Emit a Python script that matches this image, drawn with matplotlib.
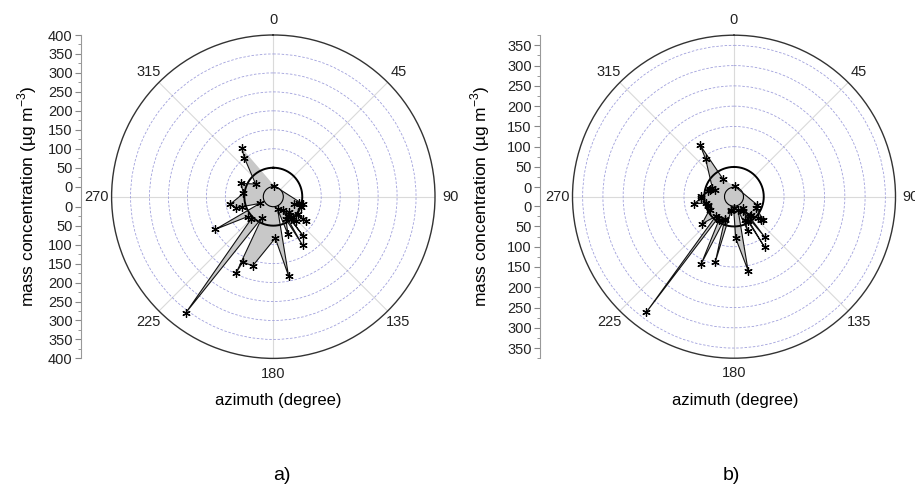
import numpy as np
import matplotlib
matplotlib.use("Agg")
import matplotlib.pyplot as plt

plt.rcParams['font.family'] = ['Liberation Sans', 'DejaVu Sans']
plt.rcParams['mathtext.fontset'] = 'custom'
plt.rcParams['mathtext.rm'] = 'Liberation Sans'

# panel a) : azimuth (degree) and mass concentration (ug m-3), sorted by azimuth
az_a = [6, 104.3, 104.4, 110, 110.5, 126, 126.7, 126.9, 134.4, 136, 137, 142, 142.7,
        143.4, 145, 148.9, 150.8, 158.7, 161, 169.1, 177.3, 196.6, 205.1, 206, 208.4,
        217, 224.6, 232.1, 240.6, 243.4, 252.3, 253.6, 260, 276.3, 292.4, 305.6,
        323.4, 327.1]
conc_a = [2, 55, 44, 32.5, 51, 53, 81, 70, 32.6, 47, 61, 49, 104,
          37, 16.5, 123, 42, 80, 9, 186, 83, 164, 163.6, 198, 36.5,
          358, 57.4, 59, 149, 13, 60, 76, 89.5, 53, 65.7, 30.9,
          101.6, 127]

# panel b)
az_b = [5.5, 109.2, 116.9, 128.4, 130, 131.6, 136, 140.5, 141.5, 142.7, 148.5, 148.8,
        150.4, 155.1, 158, 162.9, 169.2, 177.7, 181.7, 190, 191.6, 196, 202, 202.7,
        206, 213.1, 217, 217.2, 223, 229.8, 241.9, 249.6, 252.9, 257, 260, 267.7,
        270.6, 281.6, 286, 287.5, 288.1, 291.8, 323, 326.7, 328.1]
conc_b = [2, 36.6, 38.4, 68, 65, 56, 38, 38.6, 12, 102, 19, 123,
          46.6, 39, 69, 10, 162, 79, 4.5, 13, 9.3, 144, 38, 36,
          161, 44, 42, 335, 43, 80, 45, 45, 44, 47, 77, 57,
          57, 42, 39, 39.5, 27, 34, 93, 128, 28]

angle_ticks = [0, 45, 90, 135, 180, 225, 270, 315]
ref_level = 50


def panel(fig, prect, srect, az, conc, rmax, hole, label_max, ylab_x, xlab_x, letter, letter_x):
    ax = fig.add_axes(prect, projection='polar')
    ax.set_theta_zero_location('N')
    ax.set_theta_direction(-1)
    ax.set_rorigin(-hole)
    ax.set_ylim(0, rmax)
    ax.set_axisbelow(True)

    ax.set_rticks(np.arange(0, rmax, 50))
    ax.set_yticklabels([])
    ax.yaxis.grid(True, color='#a0a0dc', lw=0.6, ls=(0, (3, 2)))
    ax.set_thetagrids(angle_ticks, [str(a) for a in angle_ticks], fontsize=10.5)
    ax.xaxis.grid(True, color='#dadada', lw=0.8, ls='-')
    ax.set_xticks(np.deg2rad(np.arange(22.5, 360, 45)), minor=True)
    ax.tick_params(axis='x', which='major', direction='in', length=5, pad=4, colors='#444444')
    ax.tick_params(axis='x', which='minor', direction='in', length=4, color='#444444')
    ax.tick_params(axis='x', which='major', labelcolor='#222222')
    ax.spines['polar'].set_color('#333333')
    ax.spines['polar'].set_linewidth(1.0)
    ax.spines['inner'].set_visible(False)

    th = np.deg2rad(az)
    ax.fill(th, conc, color='#c8c8c8', lw=0, zorder=2, clip_on=False)
    circ = np.linspace(0, 2 * np.pi, 361)
    ax.plot(circ, np.full_like(circ, ref_level), color='k', lw=1.4, zorder=3)
    ax.plot(th, conc, color='#111111', lw=0.8, marker=(6, 2, 0), ms=6, mew=0.9,
            mec='k', zorder=4, clip_on=False)

    # linear scale on the side
    sax = fig.add_axes(srect)
    sax.set_ylim(-(rmax + hole), rmax + hole)
    vals = np.arange(0, label_max + 1, 50)
    pos = np.concatenate([hole + vals, -(hole + vals)])
    labs = [str(v) for v in vals] * 2
    sax.set_yticks(pos)
    sax.set_yticklabels(labs, fontsize=10.5, color='#222222')
    mv = np.arange(25, rmax + 1, 50)
    sax.set_yticks(np.concatenate([hole + mv, -(hole + mv)]), minor=True)
    sax.tick_params(axis='y', which='major', length=4, color='#888888', pad=2)
    sax.tick_params(axis='y', which='minor', length=2.5, color='#888888')
    sax.set_xticks([])
    for s in ['top', 'right', 'bottom']:
        sax.spines[s].set_visible(False)
    sax.spines['left'].set_color('#999999')
    sax.patch.set_visible(False)

    yc = prect[1] + prect[3] / 2
    fig.text(ylab_x, yc, 'mass concentration (\u00b5g m$^{-3}$)', rotation=90,
             ha='center', va='center', fontsize=12.5)
    fig.text(xlab_x, 1 - 400 / 488, 'azimuth (degree)', ha='center', va='center', fontsize=12)
    fig.text(letter_x, 1 - 475 / 488, letter, ha='center', va='center', fontsize=14)
    return ax


fig = plt.figure(figsize=(9.15, 4.88), dpi=100)
fig.patch.set_facecolor('white')

panel(fig, [111.6 / 915, 129.6 / 488, 323.4 / 915, 323.4 / 488],
      [81 / 915, 129.6 / 488, 0.001, 323.4 / 488],
      az_a, conc_a, 400, 26.4, 400, 27 / 915, 278 / 915, 'a)', 282 / 915)
panel(fig, [572.5 / 915, 129.8 / 488, 323 / 915, 323 / 488],
      [540 / 915, 129.8 / 488, 0.001, 323 / 488],
      az_b, conc_b, 375, 23.4, 350, 480 / 915, 735 / 915, 'b)', 731 / 915)

fig.savefig('out.png', dpi=100, facecolor='white')
